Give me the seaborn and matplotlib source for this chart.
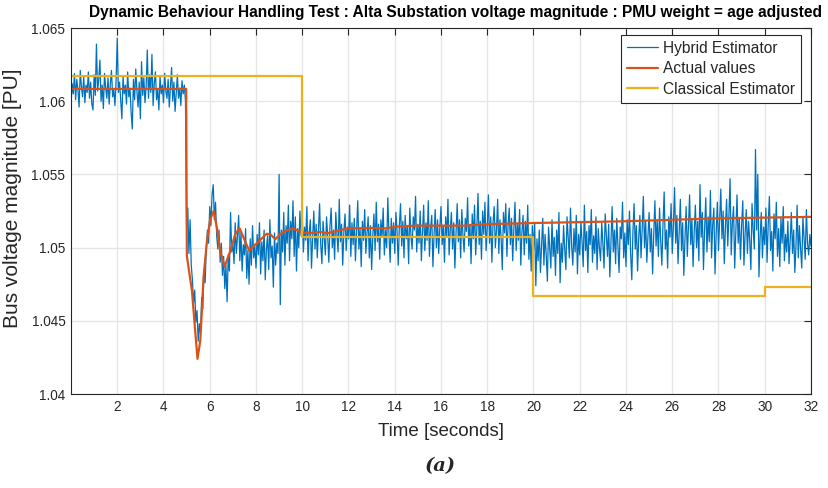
import numpy as np
import pandas as pd
import matplotlib
matplotlib.use("Agg")
import matplotlib.pyplot as plt
from matplotlib.ticker import FuncFormatter
import seaborn as sns

# ---------------- data ----------------
hybrid_dt = 0.05  # sampling step of the hybrid estimator [s]
hybrid_values = [
    # 0-5 s
    1.0597, 1.0612, 1.0605, 1.0619, 1.0601, 1.0615, 1.0608, 1.0596, 1.0621, 1.0610,
    1.0603, 1.0617, 1.0599, 1.0611, 1.0606, 1.0620, 1.0602, 1.0613, 1.0598, 1.0594,
    1.0618, 1.0604, 1.0639, 1.0607, 1.0615, 1.0628, 1.0600, 1.0611, 1.0595, 1.0619,
    1.0609, 1.0602, 1.0616, 1.0598, 1.0612, 1.0621, 1.0603, 1.0608, 1.0597, 1.0614,
    1.0643, 1.0606, 1.0613, 1.0600, 1.0588, 1.0617, 1.0605, 1.0611, 1.0598, 1.0620,
    1.0603, 1.0609, 1.0592, 1.0581, 1.0615, 1.0601, 1.0622, 1.0607, 1.0596, 1.0613,
    1.0588, 1.0627, 1.0604, 1.0616, 1.0599, 1.0610, 1.0635, 1.0602, 1.0618, 1.0606,
    1.0632, 1.0597, 1.0612, 1.0620, 1.0601, 1.0608, 1.0594, 1.0617, 1.0605, 1.0611,
    1.0599, 1.0619, 1.0607, 1.0602, 1.0615, 1.0596, 1.0610, 1.0623, 1.0600, 1.0613,
    1.0593, 1.0606, 1.0618, 1.0602, 1.0609, 1.0597, 1.0614, 1.0605, 1.0611, 1.0600,
    # 5-10 s
    1.0512, 1.0527, 1.0496, 1.0519, 1.0488, 1.0478, 1.0462, 1.0471, 1.0449, 1.0457,
    1.0436, 1.0448, 1.0441, 1.0466, 1.0458, 1.0484, 1.0476, 1.0499, 1.0512, 1.0503,
    1.0528, 1.0515, 1.0536, 1.0543, 1.0519, 1.0531, 1.0508, 1.0499, 1.0512, 1.0490,
    1.0503, 1.0481, 1.0494, 1.0472, 1.0488, 1.0463, 1.0495, 1.0484, 1.0524, 1.0497,
    1.0503, 1.0489, 1.0517, 1.0496, 1.0508, 1.0522, 1.0491, 1.0510, 1.0484, 1.0502,
    1.0495, 1.0513, 1.0479, 1.0498, 1.0475, 1.0506, 1.0488, 1.0515, 1.0493, 1.0501,
    1.0486, 1.0509, 1.0495, 1.0517, 1.0482, 1.0504, 1.0491, 1.0512, 1.0478, 1.0499,
    1.0508, 1.0485, 1.0519, 1.0493, 1.0501, 1.0473, 1.0510, 1.0488, 1.0503, 1.0496,
    1.0550, 1.0461, 1.0512, 1.0497, 1.0524, 1.0488, 1.0515, 1.0503, 1.0529, 1.0491,
    1.0518, 1.0506, 1.0532, 1.0494, 1.0521, 1.0484, 1.0513, 1.0500, 1.0525, 1.0508,
    # 10-20 s
    1.0522, 1.0497, 1.0514, 1.0505, 1.0528, 1.0491, 1.0510, 1.0519, 1.0486, 1.0507,
    1.0525, 1.0499, 1.0516, 1.0493, 1.0512, 1.0530, 1.0502, 1.0489, 1.0518, 1.0506,
    1.0495, 1.0521, 1.0508, 1.0490, 1.0515, 1.0527, 1.0500, 1.0512, 1.0492, 1.0524,
    1.0509, 1.0497, 1.0533, 1.0504, 1.0516, 1.0488, 1.0511, 1.0523, 1.0498, 1.0514,
    1.0506, 1.0529, 1.0494, 1.0517, 1.0502, 1.0520, 1.0491, 1.0511, 1.0532, 1.0499,
    1.0513, 1.0487, 1.0518, 1.0505, 1.0526, 1.0496, 1.0510, 1.0521, 1.0493, 1.0515,
    1.0485, 1.0508, 1.0523, 1.0498, 1.0531, 1.0504, 1.0516, 1.0492, 1.0519, 1.0507,
    1.0527, 1.0495, 1.0512, 1.0500, 1.0534, 1.0509, 1.0490, 1.0520, 1.0503, 1.0517,
    1.0496, 1.0524, 1.0511, 1.0488, 1.0515, 1.0530, 1.0501, 1.0518, 1.0493, 1.0522,
    1.0506, 1.0514, 1.0489, 1.0527, 1.0508, 1.0499, 1.0521, 1.0512, 1.0535, 1.0497,
    1.0516, 1.0503, 1.0525, 1.0491, 1.0510, 1.0529, 1.0498, 1.0517, 1.0505, 1.0532,
    1.0494, 1.0513, 1.0522, 1.0487, 1.0509, 1.0526, 1.0500, 1.0519, 1.0496, 1.0514,
    1.0528, 1.0502, 1.0515, 1.0490, 1.0521, 1.0507, 1.0533, 1.0495, 1.0512, 1.0524,
    1.0499, 1.0517, 1.0486, 1.0510, 1.0530, 1.0504, 1.0519, 1.0493, 1.0526, 1.0508,
    1.0497, 1.0520, 1.0511, 1.0534, 1.0501, 1.0516, 1.0489, 1.0523, 1.0506, 1.0529,
    1.0495, 1.0513, 1.0537, 1.0502, 1.0518, 1.0492, 1.0525, 1.0509, 1.0531, 1.0498,
    1.0514, 1.0536, 1.0503, 1.0521, 1.0490, 1.0517, 1.0528, 1.0500, 1.0512, 1.0533,
    1.0496, 1.0519, 1.0507, 1.0485, 1.0524, 1.0510, 1.0530, 1.0494, 1.0515, 1.0527,
    1.0502, 1.0520, 1.0491, 1.0513, 1.0531, 1.0498, 1.0516, 1.0505, 1.0526, 1.0488,
    1.0511, 1.0522, 1.0495, 1.0518, 1.0503, 1.0529, 1.0492, 1.0509, 1.0484, 1.0515,
    # 20-32 s
    1.0498, 1.0517, 1.0474, 1.0506, 1.0491, 1.0512, 1.0483, 1.0502, 1.0520, 1.0488,
    1.0509, 1.0495, 1.0477, 1.0514, 1.0500, 1.0486, 1.0519, 1.0494, 1.0507, 1.0481,
    1.0512, 1.0496, 1.0524, 1.0476, 1.0503, 1.0490, 1.0515, 1.0499, 1.0485, 1.0521,
    1.0507, 1.0493, 1.0527, 1.0501, 1.0488, 1.0513, 1.0497, 1.0522, 1.0482, 1.0509,
    1.0495, 1.0518, 1.0504, 1.0487, 1.0529, 1.0498, 1.0511, 1.0483, 1.0515, 1.0502,
    1.0526, 1.0490, 1.0508, 1.0496, 1.0521, 1.0485, 1.0513, 1.0500, 1.0491, 1.0517,
    1.0503, 1.0486, 1.0523, 1.0509, 1.0494, 1.0516, 1.0480, 1.0505, 1.0528, 1.0497,
    1.0512, 1.0489, 1.0520, 1.0501, 1.0483, 1.0514, 1.0506, 1.0531, 1.0493, 1.0510,
    1.0487, 1.0519, 1.0502, 1.0525, 1.0496, 1.0478, 1.0511, 1.0530, 1.0499, 1.0515,
    1.0484, 1.0507, 1.0522, 1.0493, 1.0513, 1.0535, 1.0500, 1.0518, 1.0490, 1.0508,
    1.0524, 1.0497, 1.0513, 1.0482, 1.0509, 1.0532, 1.0501, 1.0519, 1.0494, 1.0527,
    1.0505, 1.0488, 1.0516, 1.0538, 1.0499, 1.0512, 1.0486, 1.0521, 1.0507, 1.0530,
    1.0496, 1.0515, 1.0541, 1.0503, 1.0522, 1.0489, 1.0510, 1.0533, 1.0498, 1.0517,
    1.0481, 1.0506, 1.0528, 1.0494, 1.0514, 1.0536, 1.0502, 1.0520, 1.0487, 1.0511,
    1.0529, 1.0500, 1.0518, 1.0491, 1.0543, 1.0507, 1.0524, 1.0485, 1.0513, 1.0534,
    1.0497, 1.0521, 1.0504, 1.0539, 1.0493, 1.0516, 1.0527, 1.0482, 1.0510, 1.0531,
    1.0498, 1.0519, 1.0540, 1.0506, 1.0525, 1.0489, 1.0514, 1.0533, 1.0501, 1.0522,
    1.0547, 1.0495, 1.0517, 1.0528, 1.0486, 1.0511, 1.0536, 1.0503, 1.0520, 1.0492,
    1.0515, 1.0532, 1.0488, 1.0509, 1.0526, 1.0496, 1.0518, 1.0505, 1.0485, 1.0530,
    1.0512, 1.0499, 1.0567, 1.0512, 1.0550, 1.0480, 1.0507, 1.0524, 1.0493, 1.0514,
    1.0502, 1.0527, 1.0490, 1.0516, 1.0535, 1.0498, 1.0511, 1.0484, 1.0523, 1.0506,
    1.0531, 1.0494, 1.0513, 1.0487, 1.0520, 1.0503, 1.0528, 1.0491, 1.0509, 1.0497,
    1.0518, 1.0489, 1.0505, 1.0524, 1.0496, 1.0512, 1.0483, 1.0501, 1.0529, 1.0493,
    1.0515, 1.0499, 1.0486, 1.0521, 1.0507, 1.0492, 1.0526, 1.0503, 1.0495, 1.0509,
    1.0501,
]

actual_time = [0.0, 4.98, 5.01, 5.23, 5.37, 5.47, 5.59, 5.66, 5.73, 5.88, 6.02,
               6.17, 6.31, 6.45, 6.64, 6.89, 7.10, 7.29, 7.46, 7.71, 7.90, 8.07,
               8.26, 8.47, 8.65, 8.83, 9.05, 9.27, 9.60, 9.84, 10.01, 10.49,
               10.78, 11.07, 11.93, 12.94, 13.5, 14.2, 15.0, 17.0, 18.0, 20.0,
               24.0, 28.0, 32.0]
actual_values = [1.06084, 1.06084, 1.04943, 1.04705, 1.04433, 1.04240, 1.04364,
                 1.04569, 1.04796, 1.05046, 1.05193, 1.05250, 1.05136, 1.04978,
                 1.04869, 1.04978, 1.05091, 1.05132, 1.05068, 1.04978, 1.05012,
                 1.05034, 1.05064, 1.05095, 1.05087, 1.05057, 1.05091, 1.05114,
                 1.05130, 1.05114, 1.05102, 1.05100, 1.05107, 1.05098, 1.05130,
                 1.05135, 1.05130, 1.05145, 1.05150, 1.05150, 1.05160, 1.05168,
                 1.05180, 1.05200, 1.05210]

classical_time = [0.0, 10.0, 10.0, 20.0, 20.0, 30.0, 30.0, 32.0]
classical_values = [1.06175, 1.06175, 1.05073, 1.05073, 1.04671, 1.04671,
                    1.04732, 1.04732]

series_names = ["Hybrid Estimator", "Actual values", "Classical Estimator"]
series_colors = ["#0072BD", "#D95319", "#EDB120"]
x_ticks = list(range(2, 33, 2))
y_ticks = [1.04, 1.045, 1.05, 1.055, 1.06, 1.065]

# ---------------- figure ----------------
sns.set_theme(style="whitegrid")
plt.rcParams["font.family"] = ["Liberation Sans", "DejaVu Sans"]

hybrid_time = np.arange(len(hybrid_values)) * hybrid_dt
df_h = pd.DataFrame({"t": hybrid_time, "v": hybrid_values})
df_a = pd.DataFrame({"t": actual_time, "v": actual_values})
df_c = pd.DataFrame({"t": classical_time, "v": classical_values})

fig = plt.figure(figsize=(8.29, 4.88), dpi=100)
ax = fig.add_axes([71 / 829, 1 - 394 / 488, 740 / 829, 366 / 488])
ax.set_facecolor("white")

sns.lineplot(data=df_h, x="t", y="v", ax=ax, color=series_colors[0], lw=0.9,
             estimator=None, sort=False, label=series_names[0])
sns.lineplot(data=df_a, x="t", y="v", ax=ax, color=series_colors[1], lw=1.6,
             estimator=None, sort=False, label=series_names[1])
sns.lineplot(data=df_c, x="t", y="v", ax=ax, color=series_colors[2], lw=1.6,
             estimator=None, sort=False, label=series_names[2])

ax.set_xlim(0, 32)
ax.set_ylim(1.04, 1.065)
ax.set_xticks(x_ticks)
ax.set_yticks(y_ticks)
ax.yaxis.set_major_formatter(FuncFormatter(lambda v, p: f"{v:g}"))
ax.grid(True, color="#e6e6e6", lw=1.0)
ax.tick_params(direction="in", length=5, width=0.8, color="#262626",
               labelsize=9.8, labelcolor="#262626", top=True, right=True,
               pad=4)
for s in ax.spines.values():
    s.set_visible(True)
    s.set_color("#262626")
    s.set_linewidth(0.8)

ax.set_xlabel("Time [seconds]", fontsize=13.5, color="#262626", labelpad=7)
ax.set_ylabel("Bus voltage magnitude [PU]", fontsize=15, color="#262626")
ax.yaxis.set_label_coords(-49 / 740, (394 - 198) / 366)

fig.text(456 / 829, 1 - 12 / 488, "Dynamic Behaviour Handling Test : Alta Substation voltage magnitude : PMU weight = age adjusted",
         ha="center", va="center", fontsize=11.2, fontweight="bold", color="black")

leg = ax.legend(loc="upper right", bbox_to_anchor=(0.987, 0.982),
                borderaxespad=0, frameon=True, fancybox=False,
                edgecolor="#262626", framealpha=1, fontsize=11.2,
                handlelength=2.0, handletextpad=0.3, labelspacing=0.35,
                borderpad=0.4)
leg.get_frame().set_linewidth(0.8)

fig.text(440 / 829, 1 - 466 / 488, "(a)", ha="center", va="center",
         fontsize=14, fontstyle="italic", fontweight="bold",
         family=["DejaVu Serif"])

fig.savefig("out.png", dpi=100, facecolor="white")
